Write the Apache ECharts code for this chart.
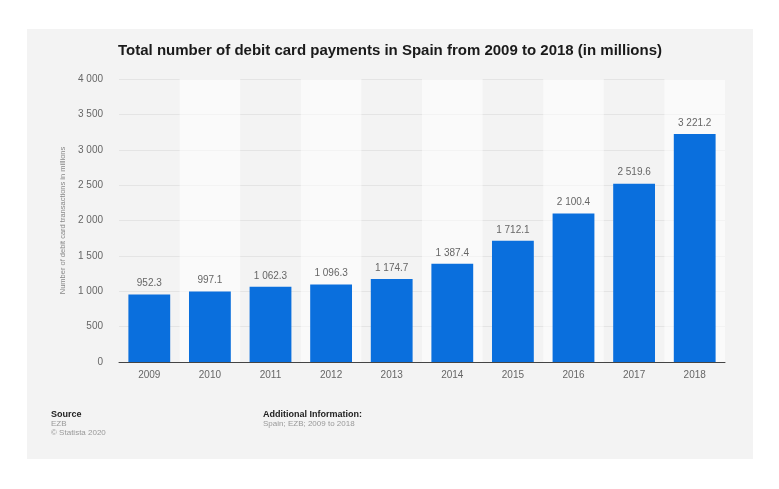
<!DOCTYPE html>
<html>
<head>
<meta charset="utf-8">
<script src="https://cdn.jsdelivr.net/npm/echarts@6/dist/echarts.min.js"></script>
<style>
  body { margin: 0; background: #fff; }
  #wrap { position: relative; width: 779px; height: 489px; background: #fff; }
  #main { position: absolute; left: 27px; top: 29px; width: 726px; height: 430px; background: #f3f3f3; }
</style>
</head>
<body>
<div id="wrap"><div id="main"></div></div>
<script>
// years on the x axis
const years = ['2009', '2010', '2011', '2012', '2013', '2014', '2015', '2016', '2017', '2018']
// payments in millions
const payments = [952.3, 997.1, 1062.3, 1096.3, 1174.7, 1387.4, 1712.1, 2100.4, 2519.6, 3221.2]
const yTicks = [0, 500, 1000, 1500, 2000, 2500, 3000, 3500, 4000]

// 1062.3 -> "1 062.3"
const spaced = (v, dec) => {
    let s = dec ? v.toFixed(dec) : String(v)
    let parts = s.split('.')
    parts[0] = parts[0].replace(/\B(?=(\d{3})+(?!\d))/g, ' ')
    return parts.join('.')
}

const font = '"Liberation Sans", Arial, sans-serif'
var chart = echarts.init(document.getElementById('main'))
var option = {
    backgroundColor: 'transparent',
    textStyle: { fontFamily: font },
    title: {
        text: 'Total number of debit card payments in Spain from 2009 to 2018 (in millions)',
        left: 'center',
        top: 9,
        textStyle: { fontSize: 15, fontWeight: 'bold', color: '#1a1a1a', fontFamily: font },
    },
    grid: { left: 92, right: 28, top: 50, bottom: 97 },
    xAxis: {
        type: 'category',
        data: years,
        axisLine: { lineStyle: { color: '#444', width: 1 } },
        axisTick: { show: false },
        axisLabel: { color: '#666', fontSize: 10, margin: 8 },
        splitArea: { show: true, areaStyle: { color: ['rgba(0,0,0,0)', 'rgba(255,255,255,0.55)'] } },
    },
    yAxis: {
        type: 'value',
        min: yTicks[0],
        max: yTicks[yTicks.length - 1],
        interval: 500,
        name: 'Number of debit card transactions in millions',
        nameLocation: 'middle',
        nameGap: 50,
        nameTextStyle: { color: '#888', fontSize: 7.5 },
        axisLine: { show: false },
        axisTick: { show: false },
        axisLabel: { color: '#666', fontSize: 10, margin: 16, formatter: (v) => spaced(v) },
        splitLine: { lineStyle: { color: '#e4e4e4', width: 1 } },
    },
    series: [
        {
            type: 'bar',
            data: payments,
            barWidth: '69%',
            itemStyle: { color: '#0a6fdd' },
            label: {
                show: true,
                position: 'top',
                distance: 6,
                color: '#666',
                fontSize: 10,
                formatter: (p) => spaced(p.value, 1),
            },
        },
    ],
    graphic: [
        { type: 'text', left: 24, top: 381, style: { text: 'Source', fill: '#222', font: 'bold 9px ' + font } },
        { type: 'text', left: 24, top: 391, style: { text: 'EZB', fill: '#999', font: '8px ' + font } },
        { type: 'text', left: 24, top: 400, style: { text: '© Statista 2020', fill: '#999', font: '8px ' + font } },
        { type: 'text', left: 236, top: 381, style: { text: 'Additional Information:', fill: '#222', font: 'bold 9px ' + font } },
        { type: 'text', left: 236, top: 391, style: { text: 'Spain; EZB; 2009 to 2018', fill: '#999', font: '8px ' + font } },
    ],
}
option && chart.setOption(option)
</script>
</body>
</html>
